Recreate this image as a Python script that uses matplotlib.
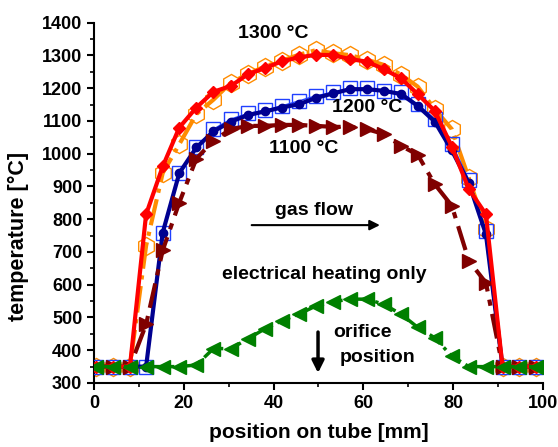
import matplotlib.pyplot as plt
from matplotlib.ticker import MultipleLocator

plt.rcParams['font.family'] = ['Liberation Sans', 'DejaVu Sans']
plt.rcParams['font.weight'] = 'bold'

# positions des thermocouples (mm)
position = [0.5, 4.3, 8.0, 11.6, 15.3, 19.0, 22.8, 26.6, 30.5, 34.3, 38.0, 41.8, 45.6, 49.4,
            53.2, 57.0, 60.8, 64.6, 68.4, 72.1, 75.9, 79.7, 83.5, 87.3, 91.0, 94.7, 98.4]

t1300_a = [350, 350, 350, 719, 941, 1029, 1121, 1165, 1217, 1243, 1266, 1284, 1302, 1316,
           1307, 1301, 1287, 1271, 1241, 1205, 1136, 1075, 925, 770, 350, 350, 350]
t1300_b = [350, 350, 350, 815, 961, 1080, 1141, 1189, 1207, 1243, 1261, 1282, 1294, 1302,
           1301, 1289, 1281, 1258, 1230, 1182, 1131, 1022, 892, 815, 350, 350, 350]
t1200_a = [350, 350, 350, 350, 759, 941, 1019, 1075, 1106, 1123, 1132, 1146, 1161, 1177,
           1187, 1200, 1200, 1192, 1187, 1151, 1106, 1031, 920, 765, 350, 350, 350]
t1200_b = [350, 350, 350, 350, 759, 941, 1019, 1068, 1098, 1118, 1129, 1141, 1151, 1170,
           1184, 1197, 1197, 1192, 1182, 1146, 1098, 1010, 910, 754, 350, 350, 350]
t1100 = [350, 350, 350, 479, 705, 851, 985, 1040, 1075, 1085, 1085, 1088, 1088, 1085,
         1082, 1082, 1075, 1060, 1024, 997, 907, 841, 673, 606, 350, 350, 350]
t_elec = [350, 350, 350, 350, 350, 350, 355, 405, 405, 435, 465, 490, 510, 535,
          548, 556, 556, 540, 510, 470, 438, 382, 350, 350, 350, 350, 350]

fig = plt.figure(figsize=(5.58, 4.47), dpi=100)
ax = fig.add_axes([0.1685, 0.1432, 0.8045, 0.8060])

# 1300 °C
ax.plot(position, t1300_a, color='#ff8c00', lw=3, ls='-.', marker='h', ms=13,
        mfc='none', mec='#ff8c00', mew=1, zorder=2)
# 1200 °C
ax.plot(position, t1200_a, color='#2040ff', lw=1, marker='s', ms=10,
        mfc='none', mec='#2040ff', mew=1, zorder=3)
ax.plot(position, t1200_b, color='#000090', lw=3, marker='o', ms=6, zorder=4)
# 1100 °C
ax.plot(position, t1100, color='#800000', lw=3, ls=(0, (6, 2, 1.5, 2)), marker='>', ms=10,
        zorder=4)
ax.plot(position, t1300_b, color='#ff0000', lw=3, marker='D', ms=6, zorder=5)
# chauffage électrique seul
ax.plot(position, t_elec, color='#008000', lw=2.5, ls=(0, (4, 1.5, 1, 1.5)), marker='<', ms=10,
        zorder=6)

ax.set_xlim(0, 100)
ax.set_ylim(300, 1400)
ax.xaxis.set_major_locator(MultipleLocator(20))
ax.xaxis.set_minor_locator(MultipleLocator(10))
ax.yaxis.set_major_locator(MultipleLocator(100))
ax.yaxis.set_minor_locator(MultipleLocator(50))
ax.tick_params(which='major', direction='out', length=5, width=1.5, labelsize=13)
ax.tick_params(which='minor', direction='out', length=3, width=1.2)
for lab in ax.get_xticklabels() + ax.get_yticklabels():
    lab.set_fontweight('bold')
for s in ['top', 'right']:
    ax.spines[s].set_visible(False)
for s in ['left', 'bottom']:
    ax.spines[s].set_linewidth(1.5)

ax.set_xlabel('position on tube [mm]', fontsize=15, fontweight='bold')
ax.xaxis.set_label_coords(0.5, -0.112)
ax.set_ylabel('temperature [°C]', fontsize=15.5, fontweight='bold')
ax.yaxis.set_label_coords(-0.145, 0.408)

ax.text(40.0, 1366, '1300 °C', fontsize=14, fontweight='bold', ha='center', va='center')
ax.text(60.8, 1140, '1200 °C', fontsize=14, fontweight='bold', ha='center', va='center')
ax.text(46.8, 1016, '1100 °C', fontsize=14, fontweight='bold', ha='center', va='center')
ax.text(49.0, 828, 'gas flow', fontsize=14, fontweight='bold', ha='center', va='center')
ax.annotate('', xy=(64.3, 782), xytext=(34.5, 782),
            arrowprops=dict(arrowstyle='-|>', color='black', lw=1.5, mutation_scale=15))
ax.text(51.2, 631, 'electrical heating only', fontsize=14, fontweight='bold',
        ha='center', va='center')
ax.text(59.8, 454, 'orifice', fontsize=14, fontweight='bold', ha='center', va='center')
ax.text(63.1, 378, 'position', fontsize=14, fontweight='bold', ha='center', va='center')
ax.annotate('', xy=(49.9, 322), xytext=(49.9, 464),
            arrowprops=dict(arrowstyle='-|>', color='black', lw=2.5, mutation_scale=18))

fig.savefig('out.png', dpi=100)
